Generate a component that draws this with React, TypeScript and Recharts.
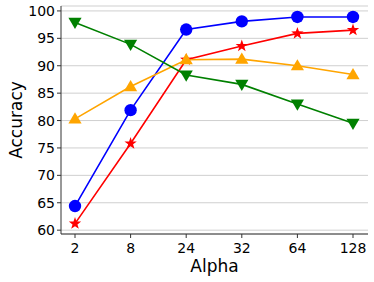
import { LineChart, Line, XAxis, YAxis, CartesianGrid } from 'recharts';

// Accuracy vs alpha, four methods
const alphas = ['2', '8', '24', '32', '64', '128'];
const blueVals = [64.4, 81.9, 96.6, 98.1, 98.9, 98.9];
const redVals = [61.2, 75.8, 91.1, 93.6, 95.9, 96.5];
const orangeVals = [80.3, 86.2, 91.1, 91.2, 90.0, 88.4];
const greenVals = [97.9, 93.9, 88.3, 86.6, 83.0, 79.5];
const yTicks = [60, 65, 70, 75, 80, 85, 90, 95, 100];

const data = alphas.map((a, i) => ({
  alpha: a,
  blue: blueVals[i],
  red: redVals[i],
  orange: orangeVals[i],
  green: greenVals[i],
}));

const FONT = '"DejaVu Sans", sans-serif';
const FRAME = '#333';

const CircleDot = (props: any) => {
  const { cx, cy, index } = props;
  return <circle key={`c${index}`} cx={cx} cy={cy} r={6.2} fill="#0000ff" />;
};

const StarDot = (props: any) => {
  const { cx, cy, index } = props;
  const R = 6.5;
  const r = R * 0.4;
  const pts: string[] = [];
  for (let k = 0; k < 10; k++) {
    const rad = k % 2 === 0 ? R : r;
    const ang = -Math.PI / 2 + (k * Math.PI) / 5;
    pts.push(`${cx + rad * Math.cos(ang)},${cy + rad * Math.sin(ang)}`);
  }
  return <polygon key={`s${index}`} points={pts.join(' ')} fill="#ff0000" />;
};

const TriUp = (props: any) => {
  const { cx, cy, index } = props;
  const s = 6.6;
  return (
    <polygon
      key={`u${index}`}
      points={`${cx},${cy - s} ${cx - s},${cy + s * 0.7} ${cx + s},${cy + s * 0.7}`}
      fill="#ffa500"
    />
  );
};

const TriDown = (props: any) => {
  const { cx, cy, index } = props;
  const s = 6.6;
  return (
    <polygon
      key={`d${index}`}
      points={`${cx},${cy + s} ${cx - s},${cy - s * 0.7} ${cx + s},${cy - s * 0.7}`}
      fill="#008000"
    />
  );
};

const YLabel = (props: any) => {
  const { viewBox } = props;
  const cy = viewBox.y + viewBox.height / 2;
  return (
    <text
      x={16}
      y={cy}
      transform={`rotate(-90, 16, ${cy})`}
      textAnchor="middle"
      dominantBaseline="central"
      fontSize={17}
      fontFamily={FONT}
      fill="#000"
    >
      Accuracy
    </text>
  );
};

const XLabel = (props: any) => {
  const { viewBox } = props;
  const cx = viewBox.x + viewBox.width / 2;
  return (
    <text x={cx} y={272} textAnchor="middle" fontSize={17} fontFamily={FONT} fill="#000">
      Alpha
    </text>
  );
};

export default function App() {
  return (
    <div style={{ position: 'absolute', left: 0, top: 0, background: '#fff' }}>
      <LineChart
        width={374}
        height={282}
        data={data}
        margin={{ top: 6, right: 6, bottom: 0, left: 0 }}
      >
        <CartesianGrid vertical={false} stroke="#cfcfcf" strokeWidth={1} />
        <XAxis
          dataKey="alpha"
          height={48}
          padding={{ left: 14, right: 15 }}
          tickSize={4}
          tickMargin={5}
          axisLine={{ stroke: FRAME }}
          tickLine={{ stroke: FRAME }}
          tick={{ fill: '#000', fontSize: 14, fontFamily: FONT }}
          label={<XLabel />}
        />
        <XAxis
          xAxisId="top"
          dataKey="alpha"
          orientation="top"
          height={0}
          padding={{ left: 14, right: 15 }}
          tick={false}
          tickLine={false}
          axisLine={{ stroke: FRAME }}
        />
        <YAxis
          width={61}
          domain={[59.3, 100.9]}
          ticks={yTicks}
          type="number"
          allowDataOverflow
          tickSize={4}
          tickMargin={2}
          axisLine={{ stroke: FRAME }}
          tickLine={{ stroke: FRAME }}
          tick={{ fill: '#000', fontSize: 14, fontFamily: FONT }}
          label={<YLabel />}
        />
        <YAxis
          yAxisId="right"
          orientation="right"
          width={0}
          domain={[59.3, 100.9]}
          tick={false}
          tickLine={false}
          axisLine={{ stroke: FRAME }}
        />
        <Line dataKey="blue" stroke="#0000ff" strokeWidth={1.6} dot={CircleDot} isAnimationActive={false} />
        <Line dataKey="red" stroke="#ff0000" strokeWidth={1.6} dot={StarDot} isAnimationActive={false} />
        <Line dataKey="orange" stroke="#ffa500" strokeWidth={1.6} dot={TriUp} isAnimationActive={false} />
        <Line dataKey="green" stroke="#008000" strokeWidth={1.6} dot={TriDown} isAnimationActive={false} />
      </LineChart>
    </div>
  );
}
